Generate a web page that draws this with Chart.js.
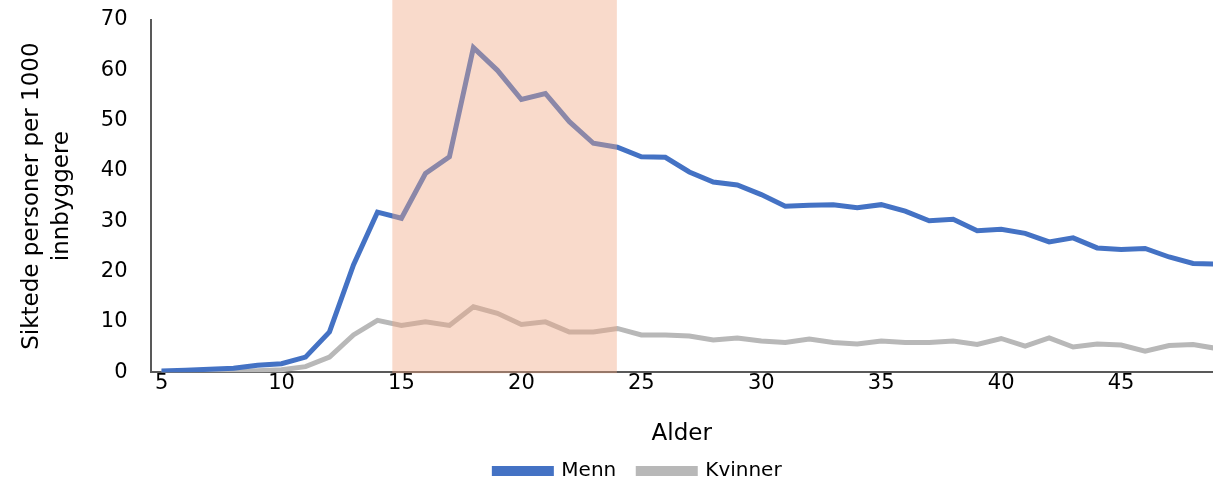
<!DOCTYPE html>
<html>
<head>
<meta charset="utf-8">
<script src="https://cdn.jsdelivr.net/npm/chart.js@4.4.1/dist/chart.umd.min.js"></script>
<style>
  html, body { margin: 0; padding: 0; background: #fff; }
  #myChart { display: block; }
</style>
</head>
<body>
<canvas id="myChart" width="1213" height="484"></canvas>
<script>
// ages 5..49
var ages = [];
for (var a = 5; a <= 49; a++) ages.push(a);

var menn = [0.25, 0.4, 0.6, 0.8, 1.4, 1.7, 3.0, 8.0, 21.3, 31.8,
    30.6, 39.5, 42.8, 64.5, 60.0, 54.2, 55.4, 49.8, 45.5, 44.7,
    42.8, 42.7, 39.8, 37.8, 37.2, 35.3, 33.0, 33.2, 33.3, 32.7,
    33.3, 32.0, 30.1, 30.4, 28.1, 28.4, 27.6, 25.9, 26.7, 24.7,
    24.4, 24.6, 22.9, 21.6, 21.5];

var kvinner = [0.1, 0.1, 0.2, 0.2, 0.3, 0.5, 1.1, 3.0, 7.4, 10.3,
    9.3, 10.0, 9.3, 13.0, 11.7, 9.5, 10.0, 8.0, 8.0, 8.7,
    7.4, 7.4, 7.2, 6.4, 6.8, 6.2, 5.9, 6.6, 5.9, 5.6,
    6.2, 5.9, 5.9, 6.2, 5.5, 6.7, 5.2, 6.8, 5.0, 5.6,
    5.4, 4.2, 5.3, 5.5, 4.7];

var xTicks = [5, 10, 15, 20, 25, 30, 35, 40, 45];
// highlighted age span (in axis units)
var shadeRange = [14.62, 23.98];

function toPoints(vals) {
    var pts = [];
    for (var i = 0; i < ages.length; i++) {
        pts.push({ x: ages[i], y: vals[i] });
    }
    return pts;
}

const shadePlugin = {
    id: 'shade',
    afterDraw: (chart) => {
        const xs = chart.scales.x;
        const area = chart.chartArea;
        const x0 = xs.getPixelForValue(shadeRange[0]);
        const x1 = xs.getPixelForValue(shadeRange[1]);
        const ctx = chart.ctx;
        ctx.save();
        ctx.fillStyle = 'rgba(240,165,128,0.41)';
        ctx.fillRect(x0, 0, x1 - x0, area.bottom + 1);
        ctx.restore();
    }
};

const font = "'DejaVu Sans', sans-serif";
const ctx = document.getElementById('myChart').getContext('2d');

new Chart(ctx, {
    type: 'line',
    data: {
        datasets: [{
            label: 'Menn',
            data: toPoints(menn),
            borderColor: '#4472C4',
            backgroundColor: '#4472C4',
            borderWidth: 5,
            pointRadius: 0,
            tension: 0
        }, {
            label: 'Kvinner',
            data: toPoints(kvinner),
            borderColor: '#B8B8B8',
            backgroundColor: '#B8B8B8',
            borderWidth: 5,
            pointRadius: 0,
            tension: 0
        }]
    },
    options: {
        responsive: false,
        animation: false,
        // negative right padding only nudges the legend, like the cropped original
        layout: { padding: { top: 0, right: -46, left: 17, bottom: -7 } },
        plugins: {
            legend: {
                position: 'bottom',
                labels: {
                    boxWidth: 57,
                    boxHeight: 5,
                    padding: 22,
                    color: '#000',
                    font: { family: font, size: 20 }
                }
            },
            tooltip: { enabled: false }
        },
        scales: {
            x: {
                type: 'linear',
                min: 4.54,
                max: 48.83,
                afterBuildTicks: (axis) => {
                    axis.ticks = xTicks.map(v => ({ value: v }));
                },
                grid: { display: false, drawTicks: false },
                border: { color: '#595959', width: 2 },
                ticks: {
                    color: '#000',
                    padding: -1,
                    autoSkip: false,
                    maxRotation: 0,
                    font: { family: font, size: 21 }
                },
                title: {
                    display: true,
                    text: 'Alder',
                    color: '#000',
                    padding: { top: 25, bottom: -9 },
                    font: { family: font, size: 23 }
                }
            },
            y: {
                min: 0,
                max: 70,
                afterFit: (axis) => {
                    axis.paddingTop = 20;
                    axis.paddingBottom = 0;
                },
                grid: { display: false, drawTicks: false },
                border: { color: '#595959', width: 2 },
                ticks: {
                    stepSize: 10,
                    color: '#000',
                    padding: 23,
                    font: { family: font, size: 21 }
                },
                title: {
                    display: true,
                    text: ['Siktede personer per 1000', 'innbyggere'],
                    color: '#000',
                    padding: { top: 0, bottom: 1 },
                    font: { family: font, size: 23, lineHeight: 1.3 }
                }
            }
        }
    },
    plugins: [shadePlugin]
});
</script>
</body>
</html>
